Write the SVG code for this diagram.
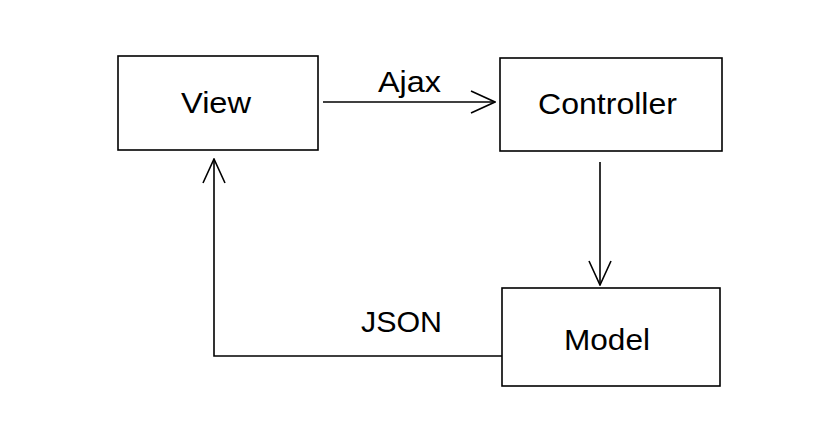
<svg xmlns="http://www.w3.org/2000/svg" width="828" height="444" viewBox="0 0 828 444">
  <style>
    .box { fill: #ffffff; stroke: #000000; stroke-width: 1.6; }
    .lbl { font-family: "Liberation Sans", Arial, sans-serif; font-size: 30px; fill: #000000; }
    .edge { fill: none; stroke: #000000; stroke-width: 1.6; }
  </style>
  <defs>
    <marker id="openArrow" viewBox="0 0 26 24" refX="25" refY="12" markerWidth="26" markerHeight="24" markerUnits="userSpaceOnUse" orient="auto">
      <path d="M1,1 L25,12 L1,23" fill="none" stroke="#000000" stroke-width="1.6"/>
    </marker>
  </defs>
  <rect width="828" height="444" fill="#ffffff"/>
  <g id="connectors">
    <path class="edge" d="M323,102 L495,102" marker-end="url(#openArrow)"/>
    <text class="lbl" x="378" y="92" textLength="63" lengthAdjust="spacingAndGlyphs">Ajax</text>
    <path class="edge" d="M600,162 L600,285" marker-end="url(#openArrow)"/>
    <path class="edge" d="M502,356 L214,356 L214,159" marker-end="url(#openArrow)"/>
    <text class="lbl" x="361" y="332" textLength="81" lengthAdjust="spacingAndGlyphs">JSON</text>
  </g>
  <g id="view">
    <rect class="box" x="118" y="56" width="200" height="94"/>
    <text class="lbl" x="181" y="113" textLength="70" lengthAdjust="spacingAndGlyphs">View</text>
  </g>
  <g id="controller">
    <rect class="box" x="500" y="58" width="222" height="93"/>
    <text class="lbl" x="538" y="114" textLength="139" lengthAdjust="spacingAndGlyphs">Controller</text>
  </g>
  <g id="model">
    <rect class="box" x="502" y="288" width="218" height="98"/>
    <text class="lbl" x="564" y="350" textLength="86" lengthAdjust="spacingAndGlyphs">Model</text>
  </g>
</svg>
